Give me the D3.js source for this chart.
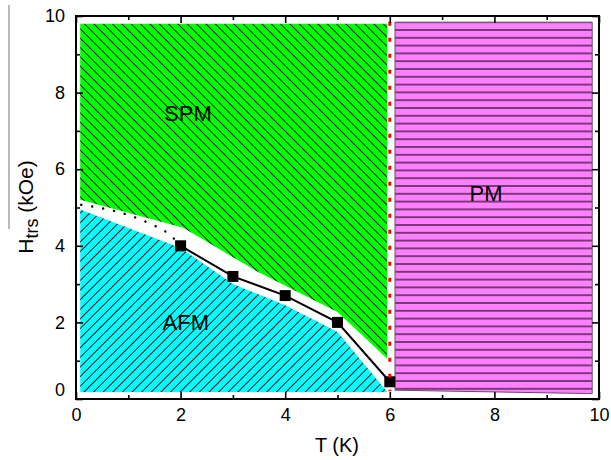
<!DOCTYPE html>
<html>
<head>
<meta charset="utf-8">
<script src="https://cdn.jsdelivr.net/npm/d3@7"></script>
<style>
  html, body { margin: 0; padding: 0; background: #fff; }
  svg { display: block; font-family: "Liberation Sans", Arial, sans-serif; }
</style>
</head>
<body>
<svg id="chart" width="611" height="460"></svg>
<script>
// Measured transition fields H_trs (kOe) versus temperature T (K)
const tempK = [2, 3, 4, 5, 6];
const htrs = [4.0, 3.2, 2.7, 2.0, 0.45];

// Extrapolated low-temperature part of the boundary (dotted)
const extrapT = [0.1, 0.94, 1.38, 1.8, 2.0];
const extrapH = [5.07, 4.83, 4.6, 4.28, 4.0];

// Phase regions, outlined in (T, H) coordinates
const spmT = [0.08, 5.95, 5.95, 5.0, 3.5, 2.05, 0.08];
const spmH = [9.8, 9.8, 1.05, 2.27, 3.3, 4.47, 5.2];
const afmT = [0.08, 2.0, 3.0, 4.0, 5.0, 5.95, 0.08];
const afmH = [4.95, 3.94, 3.0, 2.45, 1.75, 0.18, 0.18];
const pmT = [6.1, 9.87, 9.87, 6.1];
const pmH = [9.84, 9.84, 0.14, 0.23];

// Néel temperature line
const tNeel = 6;
const neelH = [9.85, 0.2];

// Region names and where they sit
const phaseNames = ["SPM", "AFM", "PM"];
const phaseT = [2.14, 2.1, 7.84];
const phaseH = [7.47, 2.0, 5.38];

// Axis ticks
const majorTicks = [0, 2, 4, 6, 8, 10];
const minorTicks = [1, 3, 5, 7, 9];

const svg = d3.select("#chart");
const plotL = 76, plotR = 599, plotT = 16, plotB = 399;
const x = d3.scaleLinear().domain([0, 10]).range([plotL, plotR]);
const y = d3.scaleLinear().domain([0, 10]).range([plotB, plotT]);

const defs = svg.append("defs");
function hatch(id, bg, angle, gap, color, width) {
  const p = defs.append("pattern")
    .attr("id", id)
    .attr("patternUnits", "userSpaceOnUse")
    .attr("width", 20).attr("height", gap)
    .attr("patternTransform", `rotate(${angle})`);
  p.append("rect").attr("width", 20).attr("height", gap).attr("fill", bg);
  p.append("line").attr("x1", 0).attr("x2", 20).attr("y1", gap / 2).attr("y2", gap / 2)
    .attr("stroke", color).attr("stroke-width", width);
}
hatch("spmFill", "#00ff00", 45, 6.6, "#111", 1);
hatch("afmFill", "#00ffff", -45, 6.8, "#111", 1);

const pmPat = defs.append("pattern")
  .attr("id", "pmFill")
  .attr("patternUnits", "userSpaceOnUse")
  .attr("x", 0).attr("y", 30 % 7.8 - 7.8 / 2)
  .attr("width", 20).attr("height", 7.8);
pmPat.append("rect").attr("width", 20).attr("height", 7.8).attr("fill", "#ff80ff");
pmPat.append("line").attr("x1", 0).attr("x2", 20).attr("y1", 3.9).attr("y2", 3.9)
  .attr("stroke", "#331633").attr("stroke-width", 1.3);

const area = (ts, hs) => d3.line().x(i => x(ts[i])).y(i => y(hs[i]))(d3.range(ts.length)) + "Z";

svg.append("path").attr("d", area(spmT, spmH)).attr("fill", "url(#spmFill)");
svg.append("path").attr("d", area(afmT, afmH)).attr("fill", "url(#afmFill)");
svg.append("path").attr("d", area(pmT, pmH)).attr("fill", "url(#pmFill)")
  .attr("stroke", "#6a4a6a").attr("stroke-width", 1);

// Dotted extrapolation
svg.append("path")
  .attr("d", d3.line().x(i => x(extrapT[i])).y(i => y(extrapH[i])).curve(d3.curveMonotoneX)(d3.range(extrapT.length)))
  .attr("fill", "none").attr("stroke", "#000").attr("stroke-width", 2.4)
  .attr("stroke-linecap", "round").attr("stroke-dasharray", "0.1,11");

// Measured boundary
svg.append("path")
  .attr("d", d3.line().x(i => x(tempK[i])).y(i => y(htrs[i]))(d3.range(tempK.length)))
  .attr("fill", "none").attr("stroke", "#000").attr("stroke-width", 2);

const sq = 11;
svg.selectAll("rect.pt").data(d3.range(tempK.length)).join("rect")
  .attr("class", "pt")
  .attr("x", i => x(tempK[i]) - sq / 2).attr("y", i => y(htrs[i]) - sq / 2)
  .attr("width", sq).attr("height", sq).attr("fill", "#000");

// Néel line (red dots)
svg.append("line")
  .attr("x1", x(tNeel)).attr("x2", x(tNeel))
  .attr("y1", y(neelH[0])).attr("y2", y(neelH[1]))
  .attr("stroke", "#ff0000").attr("stroke-width", 3)
  .attr("stroke-dasharray", "4,12");

// Region labels
svg.selectAll("text.phase").data(d3.range(phaseNames.length)).join("text")
  .attr("class", "phase")
  .attr("x", i => x(phaseT[i])).attr("y", i => y(phaseH[i]))
  .attr("dy", "0.36em").attr("text-anchor", "middle")
  .attr("font-size", 22).attr("fill", "#000")
  .text(i => phaseNames[i]);

// Axes with inward ticks on all four sides
function styleAxis(g) {
  g.select(".domain").remove();
  g.selectAll(".tick line").attr("stroke", "#000").attr("stroke-width", 1.6);
  g.selectAll(".tick text").attr("font-size", 18).attr("fill", "#000")
    .attr("font-family", "Liberation Sans, Arial, sans-serif");
}
function addAxis(axis, pos, isX, ticks, size, labels, pad) {
  const g = svg.append("g")
    .attr("transform", isX ? `translate(0,${pos})` : `translate(${pos},0)`)
    .call(axis.tickValues(ticks).tickSizeInner(size).tickSizeOuter(0)
      .tickPadding(pad || 3).tickFormat(labels ? d3.format("d") : ""));
  styleAxis(g);
  return g;
}
addAxis(d3.axisBottom(x), plotB, true, majorTicks, -7, true, 9);
addAxis(d3.axisBottom(x), plotB, true, minorTicks, -4, false);
addAxis(d3.axisTop(x), plotT, true, majorTicks, -7, false);
addAxis(d3.axisTop(x), plotT, true, minorTicks, -4, false);
const gy = addAxis(d3.axisLeft(y), plotL, false, majorTicks, -7, true, 11);
gy.selectAll(".tick").filter(d => d === 0).select("text").attr("y", -9);
addAxis(d3.axisLeft(y), plotL, false, minorTicks, -4, false);
addAxis(d3.axisRight(y), plotR, false, majorTicks, -7, false);
addAxis(d3.axisRight(y), plotR, false, minorTicks, -4, false);

// Frame
svg.append("rect")
  .attr("x", plotL).attr("y", plotT).attr("width", plotR - plotL).attr("height", plotB - plotT)
  .attr("fill", "none").attr("stroke", "#000").attr("stroke-width", 2);

// Axis titles
svg.append("text")
  .attr("x", 337).attr("y", 452)
  .attr("text-anchor", "middle").attr("font-size", 20).attr("fill", "#000")
  .text("T (K)");

const yt = svg.append("text")
  .attr("transform", "translate(33,207) rotate(-90)")
  .attr("text-anchor", "middle").attr("font-size", 21).attr("fill", "#000");
yt.append("tspan").text("H");
yt.append("tspan").attr("font-size", 18).attr("dy", 5).text("trs");
yt.append("tspan").attr("dy", -5).text(" (kOe)");

// Thin rule beside the axis title
svg.append("line")
  .attr("x1", 9).attr("x2", 9).attr("y1", 5).attr("y2", 229)
  .attr("stroke", "#777").attr("stroke-width", 1);
</script>
</body>
</html>
